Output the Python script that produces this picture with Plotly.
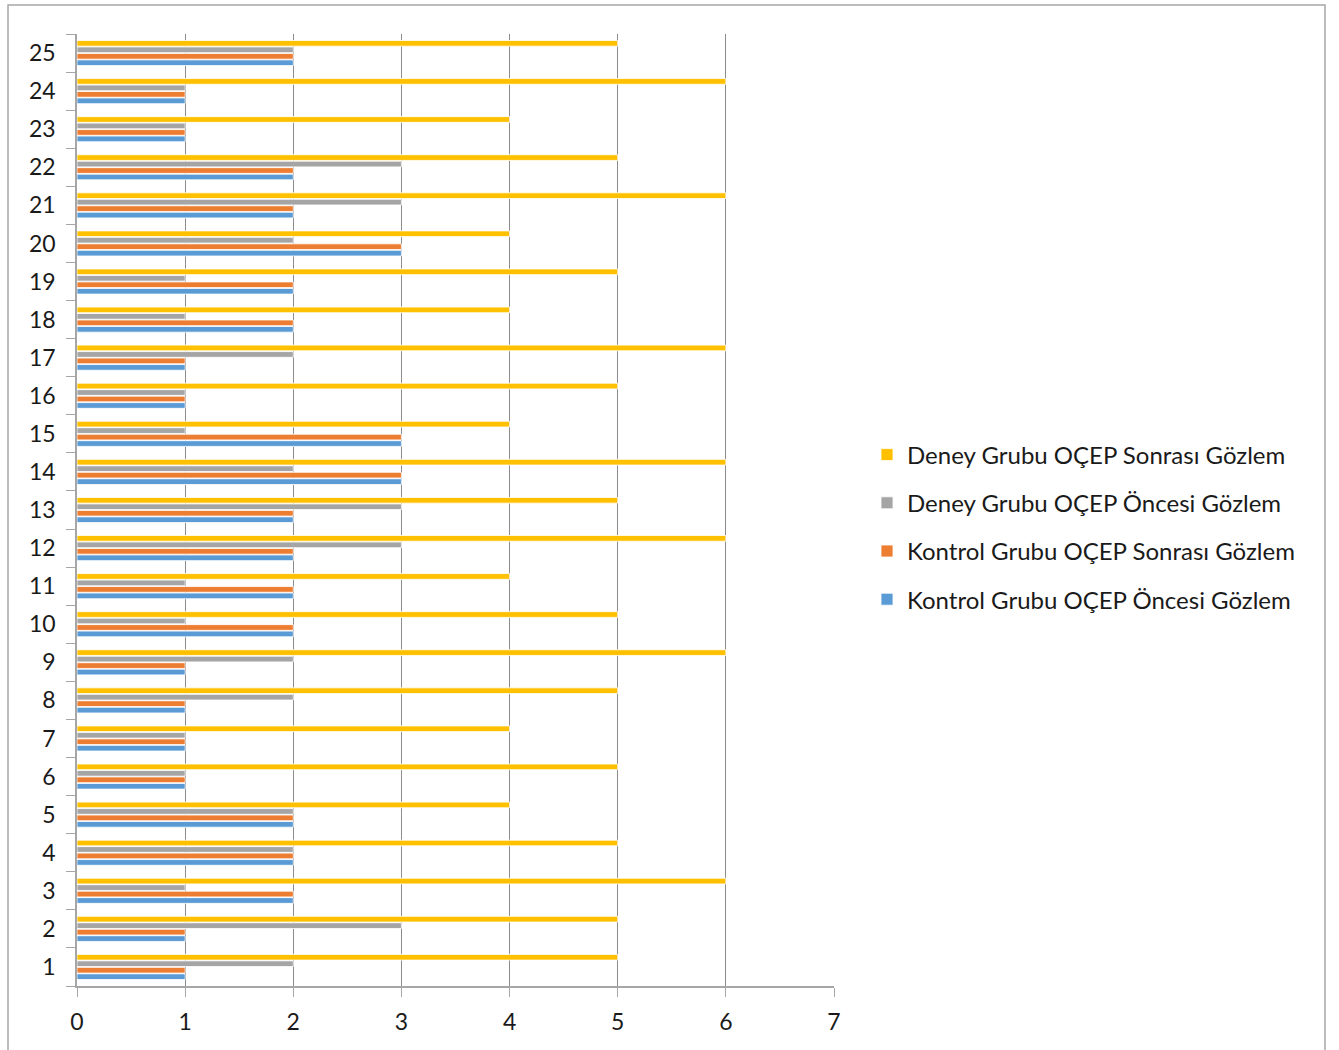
import plotly.graph_objects as go

# Observation numbers 1..25 along the category axis
categories = [str(i) for i in range(1, 26)]

kontrol_oncesi = [1, 1, 2, 2, 2, 1, 1, 1, 1, 2, 2, 2, 2, 3, 3, 1, 1, 2, 2, 3, 2, 2, 1, 1, 2]
kontrol_sonrasi = [1, 1, 2, 2, 2, 1, 1, 1, 1, 2, 2, 2, 2, 3, 3, 1, 1, 2, 2, 3, 2, 2, 1, 1, 2]
deney_oncesi = [2, 3, 1, 2, 2, 1, 1, 2, 2, 1, 1, 3, 3, 2, 1, 1, 2, 1, 1, 2, 3, 3, 1, 1, 2]
deney_sonrasi = [5, 5, 6, 5, 4, 5, 4, 5, 6, 5, 4, 6, 5, 6, 4, 5, 6, 4, 5, 4, 6, 5, 4, 6, 5]

series = [
    ("Kontrol Grubu OÇEP Öncesi Gözlem", kontrol_oncesi, "#5B9BD5"),
    ("Kontrol Grubu OÇEP Sonrası Gözlem", kontrol_sonrasi, "#ED7D31"),
    ("Deney Grubu OÇEP Öncesi Gözlem", deney_oncesi, "#A5A5A5"),
    ("Deney Grubu OÇEP Sonrası Gözlem", deney_sonrasi, "#FFC000"),
]

FONT = "Lato"
W, H = 1339, 1050
L, R, T, B = 77, 505, 34, 64

fig = go.Figure()
for i, (name, vals, color) in enumerate(series):
    fig.add_trace(go.Bar(
        y=categories, x=vals, name=name, orientation="h",
        marker=dict(color=color, line=dict(color="white", width=0.8)),
        legendgroup=f"g{i}", legendrank=len(series) - i,
    ))

pw = W - L - R
ph = H - T - B

def px_x(x):
    return (x - L) / pw

def px_y(y):
    return (H - B - y) / ph

# Outer chart frame
fig.add_shape(type="rect", xref="paper", yref="paper",
              x0=px_x(8), x1=px_x(1325), y0=px_y(1060), y1=px_y(5),
              line=dict(color="#A6A6A6", width=1.5), fillcolor="rgba(0,0,0,0)", layer="below")

fig.update_layout(
    width=W, height=H,
    margin=dict(l=L, r=R, t=T, b=B, autoexpand=False),
    paper_bgcolor="white", plot_bgcolor="white",
    barmode="group", bargap=0.32, bargroupgap=0.12,
    font=dict(family=FONT, size=23, color="#1a1a1a"),
    legend=dict(
        x=px_x(867), xanchor="left", y=px_y(527), yanchor="middle",
        traceorder="grouped", tracegroupgap=14,
        font=dict(family=FONT, size=24, color="#1a1a1a"),
        bgcolor="rgba(0,0,0,0)",
    ),
    xaxis=dict(
        range=[0, 7], dtick=1, tick0=0,
        showgrid=True, gridcolor="#8C8C8C", gridwidth=1,
        showline=True, linecolor="#A6A6A6", linewidth=1.5,
        ticks="outside", ticklen=9, tickcolor="#A6A6A6",
        tickfont=dict(family=FONT, size=23, color="#1a1a1a"),
        zeroline=False, fixedrange=True, ticklabelstandoff=6,
    ),
    yaxis=dict(
        type="category", categoryorder="array", categoryarray=categories,
        showline=True, linecolor="#A6A6A6", linewidth=1.5,
        ticks="outside", ticklen=9, tickcolor="#A6A6A6", tickson="boundaries",
        tickfont=dict(family=FONT, size=23, color="#1a1a1a"),
        showgrid=False, fixedrange=True, ticklabelstandoff=15,
    ),
)

fig.write_html("out.html")
